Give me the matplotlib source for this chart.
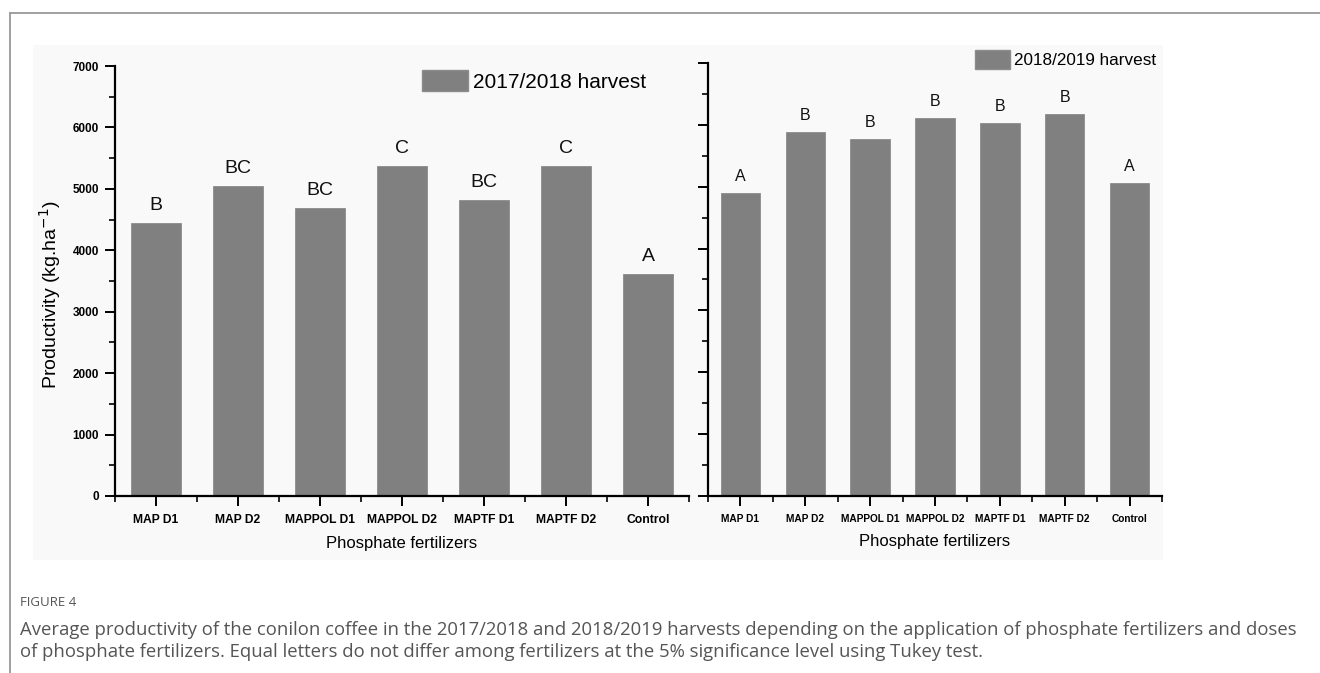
import matplotlib
matplotlib.use('Agg')
import matplotlib.pyplot as plt
from matplotlib.patches import Rectangle, Patch
from matplotlib.lines import Line2D
import numpy as np

# data
fertilizers = ['MAP D1', 'MAP D2', 'MAPPOL D1', 'MAPPOL D2', 'MAPTF D1', 'MAPTF D2', 'Control']
harvest_1718 = [4446, 5049, 4690, 5370, 4820, 5370, 3615]
letters_1718 = ['B', 'BC', 'BC', 'C', 'BC', 'C', 'A']
harvest_1819 = [4900, 5885, 5770, 6110, 6030, 6175, 5060]
letters_1819 = ['A', 'B', 'B', 'B', 'B', 'B', 'A']

plt.rcParams['font.family'] = ['Liberation Sans', 'DejaVu Sans']
bar_color = '#808080'

fig = plt.figure(figsize=(13.2, 6.73), dpi=100)

# light panel backgrounds like the scanned figure
fig.add_artist(Rectangle((33 / 1320, 1 - 560 / 673), (700 - 33) / 1320, (560 - 45) / 673,
                         transform=fig.transFigure, facecolor='#f9f9f9', edgecolor='none', zorder=0))
fig.add_artist(Rectangle((700 / 1320, 1 - 560 / 673), (1163 - 700) / 1320, (560 - 45) / 673,
                         transform=fig.transFigure, facecolor='#f9f9f9', edgecolor='none', zorder=0))

# frame lines of the page
fig.add_artist(Line2D([10 / 1320, 1], [1 - 13 / 673, 1 - 13 / 673], transform=fig.transFigure,
                      color='#999999', linewidth=1.3))
fig.add_artist(Line2D([10 / 1320, 10 / 1320], [0, 1 - 13 / 673], transform=fig.transFigure,
                      color='#999999', linewidth=1.3))

ax1 = fig.add_axes([115 / 1320, 177 / 673, 574 / 1320, 430 / 673])
ax2 = fig.add_axes([708 / 1320, 177 / 673, 454 / 1320, 433 / 673])

x = np.arange(len(fertilizers))


def style_axis(ax, values, letters, label, letter_size, tick_size, xlabel_size,
               leg_size, leg_anchor, handlelength, handleheight):
    ax.set_facecolor('none')
    ax.bar(x, values, width=0.61, color=bar_color, edgecolor='#8c8c8c', linewidth=0.6)
    for xi, v, t in zip(x, values, letters):
        ax.text(xi, v + 150, t, ha='center', va='bottom', fontsize=letter_size, color='#111111')
    ax.set_xlim(-0.5, 6.5)
    ax.set_ylim(0, 7000)
    for s in ['top', 'right']:
        ax.spines[s].set_visible(False)
    for s in ['left', 'bottom']:
        ax.spines[s].set_linewidth(1.6)
    ax.set_xticks(x)
    ax.set_xticklabels(fertilizers, fontsize=tick_size, fontweight='bold')
    ax.set_xticks(np.arange(-0.5, 7, 1), minor=True)
    ax.set_yticks(np.arange(0, 7001, 1000))
    ax.set_yticks(np.arange(500, 7000, 1000), minor=True)
    ax.tick_params(axis='both', which='major', length=7, width=1.4, direction='out')
    ax.tick_params(axis='both', which='minor', length=4, width=1.2, direction='out')
    ax.tick_params(axis='x', pad=6)
    ax.tick_params(axis='y', pad=4.5)
    ax.set_xlabel('Phosphate fertilizers', fontsize=xlabel_size, labelpad=7)
    handle = Patch(facecolor=bar_color, edgecolor='#8c8c8c')
    ax.legend([handle], [label], loc='upper left', bbox_to_anchor=leg_anchor, frameon=False,
              fontsize=leg_size, handlelength=handlelength,
              handleheight=handleheight, handletextpad=0.25, borderpad=0, borderaxespad=0)


style_axis(ax1, harvest_1718, letters_1718, '2017/2018 harvest', 14, 8.7, 12, 15,
           (0.535, 0.99), 2.2, 1.15)
ax1.set_yticklabels([str(v) for v in range(0, 7001, 1000)], fontsize=8.5, fontweight='bold')
ax1.set_ylabel('Productivity (kg.ha$^{-1}$)', fontsize=14)
ax1.yaxis.set_label_coords(-0.09, 0.467)

# right panel was squeezed sideways in the source, so its text runs a bit smaller
style_axis(ax2, harvest_1819, letters_1819, '2018/2019 harvest', 11.5, 7.3, 12, 12.3,
           (0.588, 1.03), 2.05, 1.35)
ax2.set_yticklabels([])

# caption
cap_font = ['Open Sans', 'DejaVu Sans']
fig.text(20 / 1320, 1 - 603 / 673, 'FIGURE 4', fontsize=9.5, color='#555555', va='center',
         family=cap_font)
fig.text(20 / 1320, 1 - 630 / 673,
         'Average productivity of the conilon coffee in the 2017/2018 and 2018/2019 harvests depending on the '
         'application of phosphate fertilizers and doses',
         fontsize=13.3, color='#555555', va='center', family=cap_font)
fig.text(20 / 1320, 1 - 652 / 673,
         'of phosphate fertilizers. Equal letters do not differ among fertilizers at the 5% significance level '
         'using Tukey test.',
         fontsize=13.3, color='#555555', va='center', family=cap_font)

fig.savefig('out.png', dpi=100, facecolor='white')
